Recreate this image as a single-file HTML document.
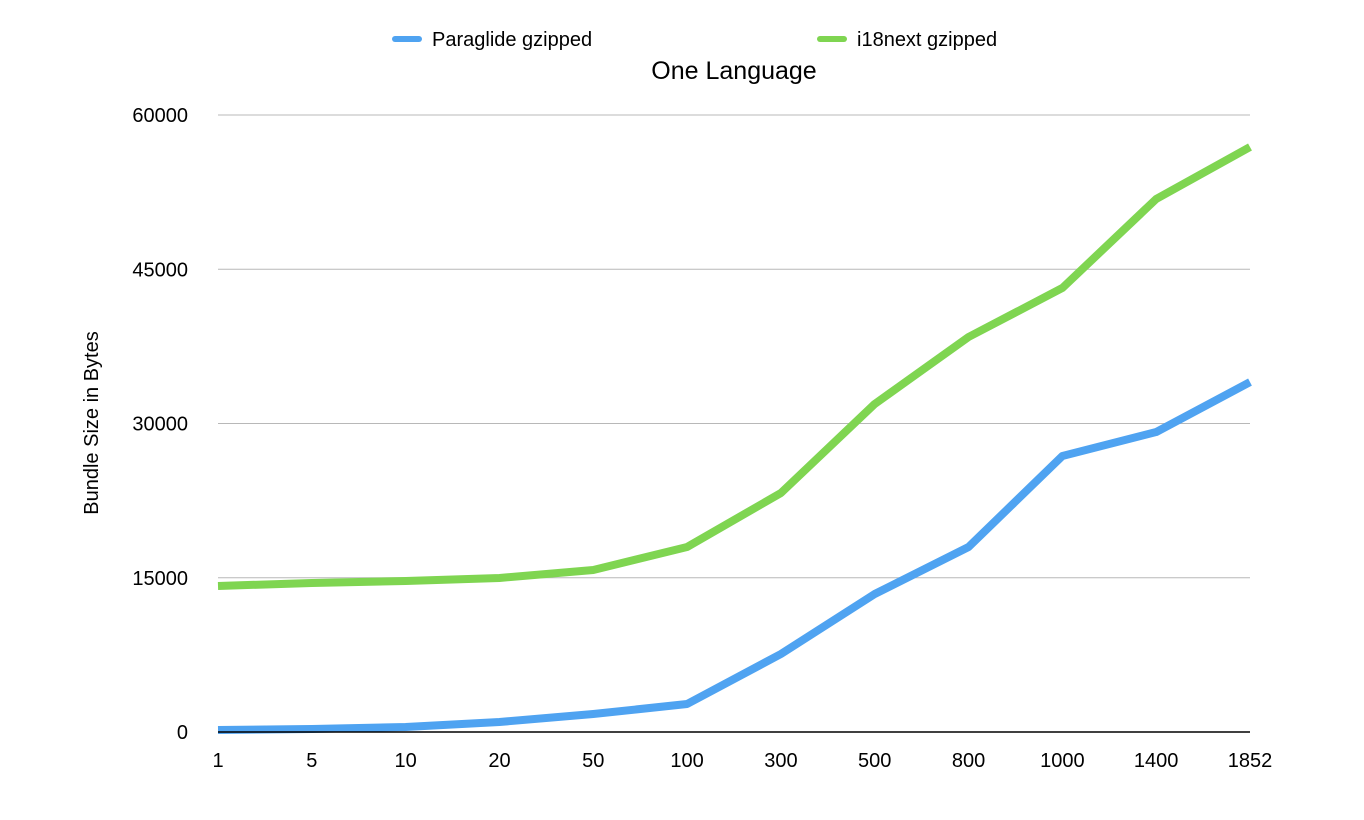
<!DOCTYPE html>
<html><head><meta charset="utf-8">
<style>
html,body{margin:0;padding:0;background:#fff;}
svg{display:block;font-family:"Liberation Sans",Arial,sans-serif;}
</style></head>
<body>
<svg id="chart" width="1364" height="820">
  <g id="grid"></g>
  <g id="yticks"></g>
  <g id="xticks"></g>
  <g id="series"></g>
  <line x1="218" y1="732" x2="1250" y2="732" stroke="#000" stroke-width="1.5"/>
  <text x="734" y="79" font-size="25" text-anchor="middle" fill="#000">One Language</text>
  <text transform="translate(98,423) rotate(-90)" font-size="20" text-anchor="middle" fill="#000">Bundle Size in Bytes</text>
  <g>
    <line x1="395" y1="39" x2="419" y2="39" stroke="#4fa3f1" stroke-width="6" stroke-linecap="round"/>
    <text x="432" y="46" font-size="20" fill="#000">Paraglide gzipped</text>
  </g>
  <g>
    <line x1="820" y1="39" x2="844" y2="39" stroke="#7fd551" stroke-width="6" stroke-linecap="round"/>
    <text x="857" y="46" font-size="20" fill="#000">i18next gzipped</text>
  </g>
</svg>
<script>
const categories = ["1","5","10","20","50","100","300","500","800","1000","1400","1852"];
const paraglide = [195,290,486,972,1750,2720,7585,13420,17990,26840,29170,34030];
const i18next = [14200,14490,14680,14980,15750,17990,23240,31900,38410,43180,51830,56890];
const yTicks = [0,15000,30000,45000,60000];

const NS = "http://www.w3.org/2000/svg";
const x0 = 218, x1 = 1250, yBase = 732, yTop = 115, yMax = 60000;
function xPos(i){ return x0 + i*(x1-x0)/(categories.length-1); }
function yPos(v){ return yBase - v/yMax*(yBase-yTop); }

const grid = document.getElementById('grid');
const yt = document.getElementById('yticks');
yTicks.forEach(t=>{
  const y = yPos(t);
  if (t>0){
    const l = document.createElementNS(NS,'line');
    l.setAttribute('x1',x0); l.setAttribute('x2',x1);
    l.setAttribute('y1',y); l.setAttribute('y2',y);
    l.setAttribute('stroke','#b8b8b8'); l.setAttribute('stroke-width','1');
    
    
    grid.appendChild(l);
  }
  const tx = document.createElementNS(NS,'text');
  tx.setAttribute('x',188); tx.setAttribute('y',y+7);
  tx.setAttribute('font-size','20'); tx.setAttribute('text-anchor','end');
  tx.textContent = t;
  
  
  yt.appendChild(tx);
});
const xt = document.getElementById('xticks');
categories.forEach((c,i)=>{
  const tx = document.createElementNS(NS,'text');
  tx.setAttribute('x',xPos(i)); tx.setAttribute('y',767);
  tx.setAttribute('font-size','20'); tx.setAttribute('text-anchor','middle');
  tx.textContent = c;
  
  
  xt.appendChild(tx);
});
const sg = document.getElementById('series');
function drawLine(vals,color,name){
  const p = document.createElementNS(NS,'polyline');
  p.setAttribute('points', vals.map((v,i)=>xPos(i)+','+yPos(v)).join(' '));
  p.setAttribute('fill','none'); p.setAttribute('stroke',color);
  p.setAttribute('stroke-width','8'); p.setAttribute('stroke-linejoin','round');
  
  
  sg.appendChild(p);
}
drawLine(i18next,'#7fd551','i18next-line');
drawLine(paraglide,'#4fa3f1','paraglide-line');
</script>
</body></html>
